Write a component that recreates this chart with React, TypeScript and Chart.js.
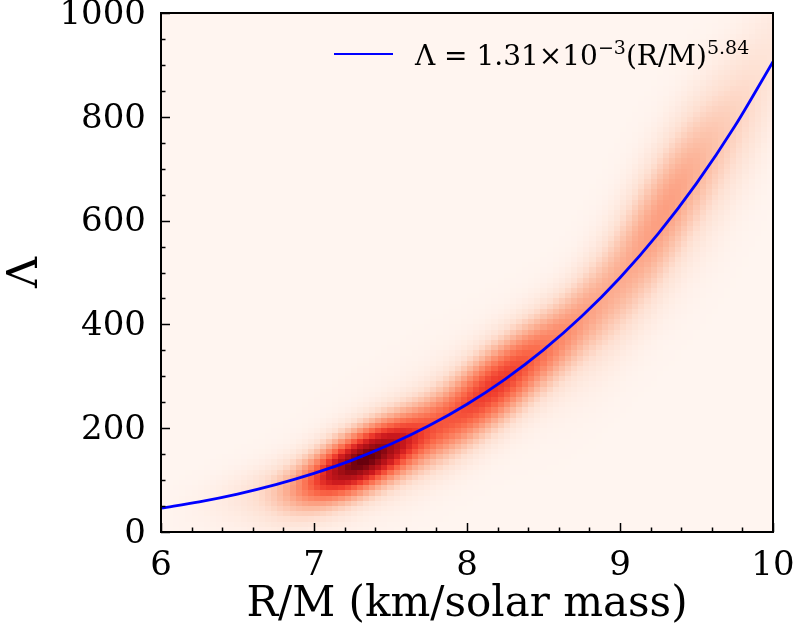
import React, { useEffect, useRef } from "react";
import { Chart, registerables } from "chart.js";

Chart.register(...registerables);

// ---- Fit curve samples (Lambda vs R/M) ----
const curveX = [6, 6.25, 6.5, 6.75, 7, 7.25, 7.5, 7.75, 8, 8.25, 8.5, 8.75, 9, 9.25, 9.5, 9.75, 10];
const curveY = [45.9, 58.2, 73.2, 91.3, 112.9, 138.6, 168.9, 204.5, 246.2, 294.7, 350.8, 415.5, 489.9, 574.9, 671.7, 781.7, 906.3];

// ---- Density blobs (centre, spread, tilt, weight) ----
const blobX = [7.33, 8.2, 9.28, 6.8, 8.75, 9.85, 7.8];
const blobY = [140, 285, 612, 92, 425, 815, 220];
const blobSx = [0.28, 0.33, 0.3, 0.32, 0.2, 0.25, 0.65];
const blobSy = [40, 52, 90, 34, 60, 100, 75];
const blobSlope = [135, 215, 420, 75, 330, 540, 170];
const blobW = [1.0, 0.62, 0.36, 0.12, 0.13, 0.1, 0.08];

// ---- Axis ticks ----
const xTicks = [6, 7, 8, 9, 10];
const yTicks = [0, 200, 400, 600, 800, 1000];
const xMinorStep = 0.2;
const yMinorStep = 50;

const xRange = [6, 10];
const yRange = [0, 1000];
const xBins = 100;
const yBins = 100;

const legendLabel = { main: "Λ = 1.31×10", sup1: "−3", mid: "(R/M)", sup2: "5.84" };

const redsStops: [number, number, number][] = [
  [255, 245, 240], [254, 224, 210], [252, 187, 161], [252, 146, 114], [251, 106, 74],
  [239, 59, 44], [203, 24, 29], [165, 15, 21], [103, 0, 13],
];

function reds(t: number): string {
  const v = Math.max(0, Math.min(1, t)) * (redsStops.length - 1);
  const i = Math.min(redsStops.length - 2, Math.floor(v));
  const f = v - i;
  const a = redsStops[i], b = redsStops[i + 1];
  const r = Math.round(a[0] + (b[0] - a[0]) * f);
  const g = Math.round(a[1] + (b[1] - a[1]) * f);
  const bl = Math.round(a[2] + (b[2] - a[2]) * f);
  return `rgb(${r},${g},${bl})`;
}

function density(x: number, y: number): number {
  let s = 0;
  for (let k = 0; k < blobX.length; k++) {
    const dx = (x - blobX[k]) / blobSx[k];
    const dy = (y - blobY[k] - blobSlope[k] * (x - blobX[k])) / blobSy[k];
    s += blobW[k] * Math.exp(-0.5 * (dx * dx + dy * dy));
  }
  return s;
}

const FONT = "'DejaVu Serif', serif";

const heatmapPlugin = {
  id: "heatmap",
  beforeDatasetsDraw(chart: any) {
    const { ctx, chartArea, scales } = chart;
    const xs = scales.x, ys = scales.y;
    const dxBin = (xRange[1] - xRange[0]) / xBins;
    const dyBin = (yRange[1] - yRange[0]) / yBins;
    const vals: number[] = [];
    let max = 0;
    for (let j = 0; j < yBins; j++) {
      for (let i = 0; i < xBins; i++) {
        const v = density(xRange[0] + (i + 0.5) * dxBin, yRange[0] + (j + 0.5) * dyBin);
        vals.push(v);
        if (v > max) max = v;
      }
    }
    ctx.save();
    ctx.beginPath();
    ctx.rect(chartArea.left, chartArea.top, chartArea.width, chartArea.height);
    ctx.clip();
    for (let j = 0; j < yBins; j++) {
      const yTop = Math.round(ys.getPixelForValue(yRange[0] + (j + 1) * dyBin));
      const yBot = Math.round(ys.getPixelForValue(yRange[0] + j * dyBin));
      for (let i = 0; i < xBins; i++) {
        const xL = Math.round(xs.getPixelForValue(xRange[0] + i * dxBin));
        const xR = Math.round(xs.getPixelForValue(xRange[0] + (i + 1) * dxBin));
        ctx.fillStyle = reds(vals[j * xBins + i] / max);
        ctx.fillRect(xL, yTop, xR - xL, yBot - yTop);
      }
    }
    ctx.restore();
  },
  afterDraw(chart: any) {
    const { ctx, chartArea, scales } = chart;
    const xs = scales.x, ys = scales.y;
    ctx.save();
    // inward ticks
    ctx.strokeStyle = "#000";
    ctx.lineWidth = 1.5;
    ctx.beginPath();
    for (let v = xRange[0]; v <= xRange[1] + 1e-9; v += xMinorStep) {
      const isMajor = xTicks.some((t) => Math.abs(t - v) < 1e-6);
      const px = Math.round(xs.getPixelForValue(v)) + 0.5;
      const len = isMajor ? 9 : 4.5;
      ctx.moveTo(px, chartArea.bottom);
      ctx.lineTo(px, chartArea.bottom - len);
    }
    for (let v = yRange[0]; v <= yRange[1] + 1e-9; v += yMinorStep) {
      const isMajor = yTicks.some((t) => Math.abs(t - v) < 1e-6);
      const py = Math.round(ys.getPixelForValue(v)) + 0.5;
      const len = isMajor ? 9 : 4.5;
      ctx.moveTo(chartArea.left, py);
      ctx.lineTo(chartArea.left + len, py);
    }
    ctx.stroke();
    // frame
    ctx.lineWidth = 2;
    ctx.strokeRect(chartArea.left, chartArea.top, chartArea.width, chartArea.height);

    // legend
    const ly = chartArea.top + 41;
    const lx0 = chartArea.left + 173;
    ctx.strokeStyle = "#0000ff";
    ctx.lineWidth = 2.2;
    ctx.beginPath();
    ctx.moveTo(lx0, ly);
    ctx.lineTo(lx0 + 59, ly);
    ctx.stroke();
    ctx.fillStyle = "#000";
    ctx.textBaseline = "alphabetic";
    ctx.textAlign = "left";
    let tx = lx0 + 81;
    const base = chartArea.top + 52;
    ctx.font = `28px ${FONT}`;
    ctx.fillText(legendLabel.main, tx, base);
    tx += ctx.measureText(legendLabel.main).width;
    ctx.font = `19px ${FONT}`;
    ctx.fillText(legendLabel.sup1, tx, base - 11);
    tx += ctx.measureText(legendLabel.sup1).width;
    ctx.font = `28px ${FONT}`;
    ctx.fillText(legendLabel.mid, tx, base);
    tx += ctx.measureText(legendLabel.mid).width;
    ctx.font = `19px ${FONT}`;
    ctx.fillText(legendLabel.sup2, tx, base - 11);
    ctx.restore();
  },
};

export default function App() {
  const canvasRef = useRef<HTMLCanvasElement | null>(null);

  useEffect(() => {
    const canvas = canvasRef.current;
    if (!canvas) return;
    const chart = new Chart(canvas, {
      type: "line",
      data: {
        datasets: [
          {
            label: "fit",
            data: curveX.map((x, i) => ({ x, y: curveY[i] })),
            borderColor: "#0000ff",
            borderWidth: 2.8,
            pointRadius: 0,
            cubicInterpolationMode: "monotone",
            fill: false,
          },
        ],
      },
      options: {
        animation: false,
        responsive: false,
        maintainAspectRatio: false,
        layout: { padding: { top: 13, right: 23, left: 0, bottom: 0 } },
        plugins: { legend: { display: false }, tooltip: { enabled: false } },
        scales: {
          x: {
            type: "linear",
            min: xRange[0],
            max: xRange[1],
            afterFit: (s: any) => { s.height = 99; s.paddingLeft = 0; s.paddingRight = 0; },
            afterBuildTicks: (s: any) => { s.ticks = xTicks.map((v) => ({ value: v })); },
            ticks: {
              color: "#000", font: { family: FONT, size: 34 }, padding: 14, maxRotation: 0,
              callback: (v: any) => String(v),
            },
            grid: { display: false, drawTicks: false },
            border: { display: false },
            title: {
              display: true,
              text: "R/M (km/solar mass)",
              color: "#000",
              font: { family: FONT, size: 42 },
              padding: { top: 0, bottom: 1 },
            },
          },
          y: {
            type: "linear",
            min: yRange[0],
            max: yRange[1],
            afterFit: (s: any) => { s.width = 161; s.paddingTop = 0; s.paddingBottom = 0; },
            afterBuildTicks: (s: any) => { s.ticks = yTicks.map((v) => ({ value: v })); },
            ticks: {
              color: "#000", font: { family: FONT, size: 34 }, padding: 15, labelOffset: 2,
              callback: (v: any) => String(v),
            },
            grid: { display: false, drawTicks: false },
            border: { display: false },
            title: {
              display: true,
              text: "Λ",
              color: "#000",
              font: { family: FONT, size: 43 },
              padding: { top: 0, bottom: 4 },
            },
          },
        },
      } as any,
      plugins: [heatmapPlugin],
    });
    return () => chart.destroy();
  }, []);

  return (
    <div style={{ position: "fixed", left: 0, top: 0, width: 796, height: 631, background: "#fff" }}>
      <canvas ref={canvasRef} width={796} height={631} style={{ width: 796, height: 631 }} />
    </div>
  );
}
